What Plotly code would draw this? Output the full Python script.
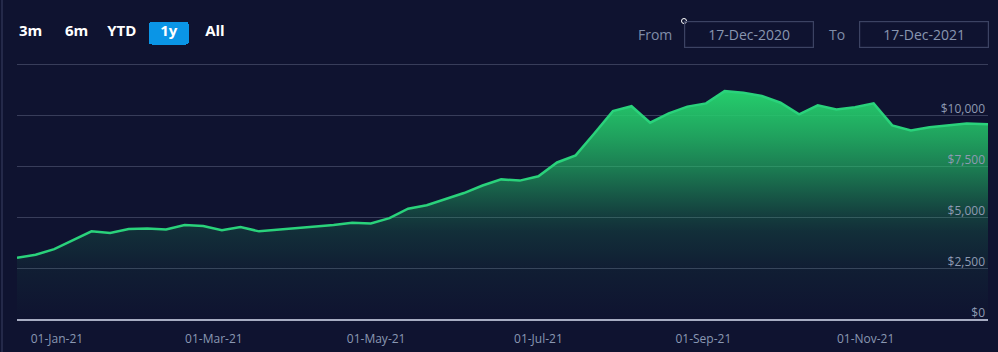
import pandas as pd
import plotly.graph_objects as go

# ---- data ----
dates = list(pd.date_range("2020-12-17", periods=53, freq="7D").strftime("%Y-%m-%d"))
dates[-1] = "2021-12-17"
values = [
    3000, 3150, 3430, 3850, 4300, 4215, 4410, 4445, 4395, 4610,
    4560, 4360, 4510, 4300, 4380, 4430, 4510, 4610, 4720, 4690,
    4950, 5410, 5580, 5890, 6180, 6550, 6850, 6790, 7000, 7680,
    8030, 9100, 10200, 10440, 9630, 10090, 10420, 10580, 11180, 11100,
    10940, 10610, 10040, 10480, 10280, 10390, 10580, 9500, 9250, 9410,
    9500, 9590, 9560,
]
y_ticks = [0, 2500, 5000, 7500, 10000, 12500]
y_labels = ["$0", "$2,500", "$5,000", "$7,500", "$10,000", ""]
range_from = "17-Dec-2020"
range_to = "17-Dec-2021"

BG = "#0f1330"
LINE = "#2ad27b"
G = "37,205,108"

vmax = max(values)
fill_stops = [(0, 0.0), (2500, 0.06), (4300, 0.15), (5000, 0.22), (6000, 0.36),
              (7500, 0.58), (9000, 0.77), (10500, 0.93), (vmax, 1.0)]
colorscale = [[v / vmax, f"rgba({G},{a})"] for v, a in fill_stops]

fig = go.Figure()
fig.add_trace(go.Scatter(
    x=dates, y=values, mode="lines",
    line=dict(color=LINE, width=2.5),
    fill="tozeroy",
    fillgradient=dict(type="vertical", colorscale=colorscale, start=0, stop=vmax),
    hoverinfo="skip",
))

nb = "\u00a0"
th = "\u2009"
fig.update_layout(
    width=998, height=352,
    margin=dict(l=17, r=10, t=63, b=33),
    paper_bgcolor=BG, plot_bgcolor=BG,
    showlegend=False,
    xaxis=dict(
        type="date", automargin=False,
        range=["2020-12-17", "2021-12-17"],
        tick0="2021-01-01", dtick="M2", tickformat="%d-%b-%y",
        showgrid=False, zeroline=False,
        showline=True, linecolor="#a7acc2", linewidth=2,
        ticks="", ticklabelstandoff=8,
        tickfont=dict(family="Open Sans", size=12, color="#8a98b3"),
        rangeselector=dict(
            buttons=[
                dict(count=3, label=nb + "3m" + nb, step="month", stepmode="backward"),
                dict(count=6, label=nb + "6m" + nb, step="month", stepmode="backward"),
                dict(count=1, label="YTD" + th, step="year", stepmode="todate"),
                dict(count=1, label=nb + th + "1y" + th + nb, step="year", stepmode="backward"),
                dict(label=th + nb + "All" + nb, step="all"),
            ],
            x=(10 - 17) / 971, xanchor="left",
            y=(319 - 21.5) / 256, yanchor="top",
            bgcolor=BG, activecolor="#0a95e6", borderwidth=0,
            font=dict(family="Open Sans", size=15, color="#ffffff", weight="bold"),
        ),
    ),
    yaxis=dict(
        automargin=False,
        range=[0, 12560],
        tickvals=y_ticks, ticktext=y_labels,
        side="right", ticklabelposition="inside",
        ticklabelshift=-6, ticklabelstandoff=0, ticklabeloverflow="allow",
        showgrid=True, gridcolor="#383d5a", gridwidth=1,
        zeroline=False, showline=False, ticks="",
        tickfont=dict(family="Open Sans", size=12, color="#8e9ab2"),
        fixedrange=True,
    ),
)

def px_x(p):
    return (p - 17) / 971

def px_y(p):
    return (319 - p) / 256

lab_font = dict(family="Open Sans", size=14, color="#7f8ca8")
box_font = dict(family="Open Sans", size=14, color="#8996b0")
common = dict(xref="paper", yref="paper", showarrow=False,
              xanchor="center", yanchor="middle")
fig.add_annotation(x=px_x(655), y=px_y(34), text="From", font=lab_font, **common)
fig.add_annotation(x=px_x(749), y=px_y(34), text=range_from, font=box_font,
                   width=128, height=25, borderpad=0,
                   bordercolor="#3c4363", borderwidth=1.2, **common)
fig.add_annotation(x=px_x(837), y=px_y(34), text="To", font=lab_font, **common)
fig.add_annotation(x=px_x(924), y=px_y(34), text=range_to, font=box_font,
                   width=128, height=25, borderpad=0,
                   bordercolor="#3c4363", borderwidth=1.2, **common)

# small marker circle and left border line
fig.add_shape(type="circle", xref="paper", yref="paper",
              xsizemode="pixel", ysizemode="pixel",
              xanchor=px_x(684), yanchor=px_y(21),
              x0=-2.5, x1=2.5, y0=-2.5, y1=2.5,
              line=dict(color="#ffffff", width=1), fillcolor=BG)
fig.add_shape(type="line", xref="paper", yref="paper",
              x0=px_x(2), x1=px_x(2), y0=-0.2, y1=1.3,
              line=dict(color="#3b4062", width=1))

fig.write_html("out.html")
